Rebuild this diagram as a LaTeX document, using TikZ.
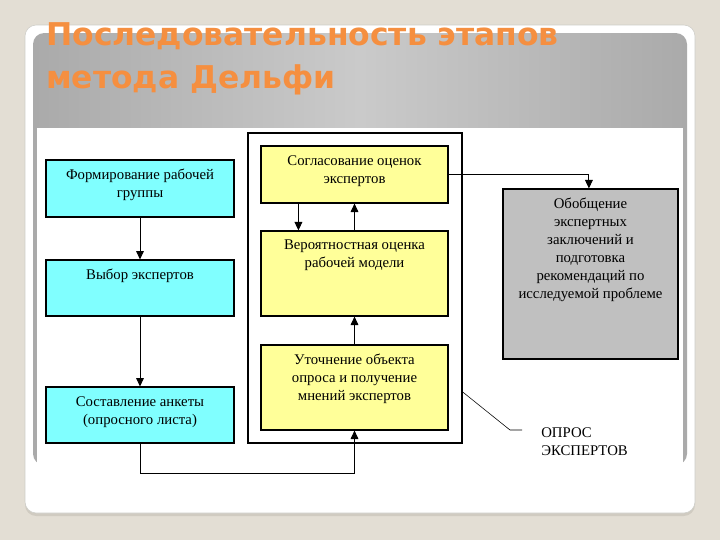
\documentclass[tikz,border=0pt]{standalone}
\usepackage{fontspec}
\setmainfont{Liberation Serif}
\newfontfamily\titlefont{DejaVu Sans}
\usetikzlibrary{arrows.meta}

\definecolor{bgbeige}{RGB}{227,222,212}
\definecolor{panelline}{RGB}{205,205,200}
\definecolor{panelshadow}{RGB}{208,203,193}
\definecolor{hdrdark}{RGB}{170,170,170}
\definecolor{hdrlight}{RGB}{202,202,202}
\definecolor{titleorange}{RGB}{245,143,64}
\definecolor{boxcyan}{RGB}{128,255,255}
\definecolor{boxyellow}{RGB}{255,255,153}
\definecolor{boxgray}{RGB}{192,192,192}

\tikzset{
  box/.style={draw=black, line width=0.8pt, inner sep=0pt},
  cbox/.style={box, fill=boxcyan, minimum width=4.7cm},
  ybox/.style={box, fill=boxyellow, minimum width=4.675cm},
  txt/.style={align=center, font=\fontsize{10.5}{12.8}\selectfont, inner sep=0pt},
  arr/.style={-{Triangle[width=5.5pt,length=6pt]}, line width=0.6pt},
}

\begin{document}
\begin{tikzpicture}[x=0.025cm,y=-0.025cm]
\useasboundingbox (0,0) rectangle (720,540);
% slide background
\fill[bgbeige] (0,0) rectangle (720,540);
\fill[panelshadow,rounded corners=8] (25,28) rectangle (695,516);
\draw[panelline,fill=white,rounded corners=8] (25,25) rectangle (695,513);
\shade[rounded corners=8,left color=hdrdark,right color=hdrdark,middle color=hdrlight] (33,33) rectangle (687,465);
\fill[white] (37,128) rectangle (683,478);
\node[font=\titlefont\bfseries\fontsize{22.3}{30.6}\selectfont, text=titleorange,
  align=left, anchor=north west, inner sep=0pt] (T) at (46,22)
  {Последовательность этапов\\метода Дельфи};

% left column
\node (F1) [cbox, minimum height=1.425cm, label={[txt,anchor=north,yshift=-2.4mm]north:Формирование рабочей\\группы}] at (140,188.5) {};
\node (F2) [cbox, minimum height=1.4cm, label={[txt,anchor=north,yshift=-2.4mm]north:Выбор экспертов}] at (140,288) {};
\node (F3) [cbox, minimum height=1.4cm, label={[txt,anchor=north,yshift=-2.4mm]north:Составление анкеты\\(опросного листа)}] at (140,415) {};

% expert survey frame
\node (Fr) [draw=black, line width=1pt, minimum width=5.35cm, minimum height=7.75cm, inner sep=0pt] at (355,288) {};
\node (S1) [ybox, minimum height=1.425cm, label={[txt,anchor=north,yshift=-2.4mm]north:Согласование оценок\\экспертов}] at (354.5,174.5) {};
\node (S2) [ybox, minimum height=2.125cm, label={[txt,anchor=north,yshift=-2.4mm]north:Вероятностная оценка\\рабочей модели}] at (354.5,273.5) {};
\node (S3) [ybox, minimum height=2.125cm, label={[txt,anchor=north,yshift=-2.4mm]north:Уточнение объекта\\опроса и получение\\мнений экспертов}] at (354.5,387.5) {};

% result
\node (G) [box, fill=boxgray, minimum width=4.375cm, minimum height=4.25cm, label={[txt,anchor=north,yshift=-2.4mm]north:Обобщение\\экспертных\\заключений и\\подготовка\\рекомендаций по\\исследуемой проблеме}] at (590.5,274) {};

\node (O) [txt, align=left, anchor=west] at (541,441.5) {ОПРОС\\ЭКСПЕРТОВ};

\coordinate (B) at (140,473);
\coordinate (K) at (510,430);
\coordinate (L) at (522,430);

\draw[arr] (F1) -- (F2);
\draw[arr] (F2) -- (F3);
\draw[arr] (F3) -- (B) -| (S3);
\draw[arr] (S3) -- (S2);
\draw[arr] (S2) -- (S1);
\draw[arr] ([xshift=0.95cm]S1.south west) -- ([xshift=0.95cm]S2.north west);
\draw[arr] (S1.east) -| ([xshift=-0.04cm]G.north);
\draw[line width=0.4pt] ([yshift=-2.6cm]Fr.east) -- (K) -- (L);
\end{tikzpicture}
\end{document}
